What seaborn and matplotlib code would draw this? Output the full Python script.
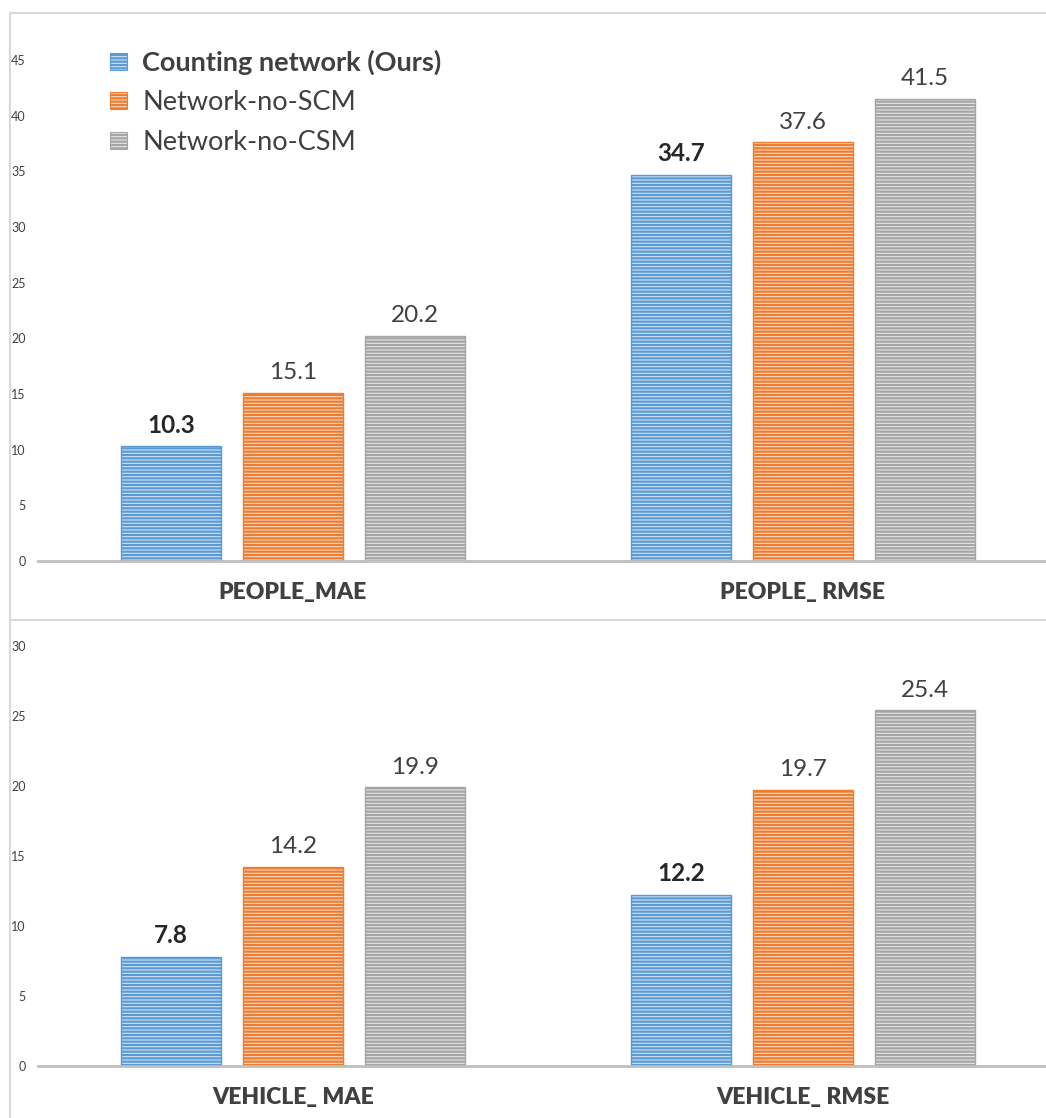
import matplotlib
matplotlib.use("Agg")
import matplotlib.pyplot as plt
import seaborn as sns
import pandas as pd
from matplotlib.patches import Patch
from matplotlib.lines import Line2D

sns.set_theme(style="white")
plt.rcParams["font.family"] = ["Lato", "DejaVu Sans"]
plt.rcParams["hatch.linewidth"] = 1.6

series = ["Counting network (Ours)", "Network-no-SCM", "Network-no-CSM"]
people_categories = ["PEOPLE_MAE", "PEOPLE_ RMSE"]
vehicle_categories = ["VEHICLE_ MAE", "VEHICLE_ RMSE"]
people_values = {
    "Counting network (Ours)": [10.3, 34.7],
    "Network-no-SCM": [15.1, 37.6],
    "Network-no-CSM": [20.2, 41.5],
}
vehicle_values = {
    "Counting network (Ours)": [7.8, 12.2],
    "Network-no-SCM": [14.2, 19.7],
    "Network-no-CSM": [19.9, 25.4],
}
people_ticks = [0, 5, 10, 15, 20, 25, 30, 35, 40, 45]
vehicle_ticks = [0, 5, 10, 15, 20, 25, 30]

line_colors = ["#5b9bd5", "#ed7d31", "#a5a5a5"]
face_colors = ["#cfe1f4", "#fbd9c2", "#e6e6e6"]
text_color = "#404040"

W, H = 1046, 1118
fig = plt.figure(figsize=(W / 100, H / 100), dpi=100)


def to_frame(categories, values):
    rows = []
    for s in series:
        for c, v in zip(categories, values[s]):
            rows.append({"category": c, "series": s, "value": v})
    return pd.DataFrame(rows)


def make_axes(y_zero_px, y_top_px, px_per_unit):
    left, right = 38, 1058
    ax = fig.add_axes([left / W, 1 - y_zero_px / H, (right - left) / W,
                       (y_zero_px - y_top_px) / H])
    ax.set_ylim(0, (y_zero_px - y_top_px) / px_per_unit)
    ax.set_facecolor("none")
    return ax


def draw_panel(ax, categories, values, ticks):
    df = to_frame(categories, values)
    sns.barplot(data=df, x="category", y="value", hue="series",
                hue_order=series, order=categories, width=0.718, gap=0.18,
                palette=face_colors, legend=False, ax=ax, saturation=1)
    ax.set_xlim(-0.5, 1.5)
    for i, cont in enumerate(ax.containers):
        for bar in cont:
            bar.set_facecolor(face_colors[i])
            bar.set_edgecolor(line_colors[i])
            bar.set_hatch("-----")
            bar.set_linewidth(1.0)
        ax.bar_label(cont, fmt="%.1f", padding=7, fontsize=17.5,
                     color=text_color if i else "#262626",
                     fontweight="bold" if i == 0 else "normal")
    ax.set_yticks(ticks)
    ax.set_yticklabels([str(t) for t in ticks], fontsize=9, color=text_color)
    ax.tick_params(axis="y", length=0, pad=9)
    ax.tick_params(axis="x", length=0, pad=15)
    for lab in ax.get_xticklabels():
        lab.set_fontsize(16.5)
        lab.set_fontweight("heavy")
        lab.set_color(text_color)
    ax.set_xlabel("")
    ax.set_ylabel("")
    for side in ["left", "right", "top"]:
        ax.spines[side].set_visible(False)
    ax.spines["bottom"].set_color("#bfbfbf")
    ax.spines["bottom"].set_linewidth(2)
    ax.grid(False)


ax_top = make_axes(561, 20, 501 / 45)
draw_panel(ax_top, people_categories, people_values, people_ticks)

ax_bot = make_axes(1066, 628, 14.0)
draw_panel(ax_bot, vehicle_categories, vehicle_values, vehicle_ticks)

handles = [Patch(facecolor=face_colors[i], edgecolor=line_colors[i],
                 hatch="-----", linewidth=0.8, label=s)
           for i, s in enumerate(series)]
leg = ax_top.legend(handles=handles, loc="upper left",
                    bbox_to_anchor=(0.047, 0.99), frameon=False,
                    fontsize=19.5, handlelength=0.62, handleheight=0.62,
                    handletextpad=0.55, labelspacing=0.55,
                    labelcolor=text_color)
leg.get_texts()[0].set_fontweight("bold")

# Panel frames
frame_color = "#d9d9d9"
for y0, y1 in [(13, 618), (620, 1118)]:
    fig.add_artist(Line2D([10 / W, 10 / W], [1 - y0 / H, 1 - y1 / H],
                          transform=fig.transFigure, color=frame_color, lw=1.5))
    fig.add_artist(Line2D([10 / W, 1.0], [1 - y0 / H, 1 - y0 / H],
                          transform=fig.transFigure, color=frame_color, lw=1.5))

fig.savefig("out.png", dpi=100, facecolor="white")
